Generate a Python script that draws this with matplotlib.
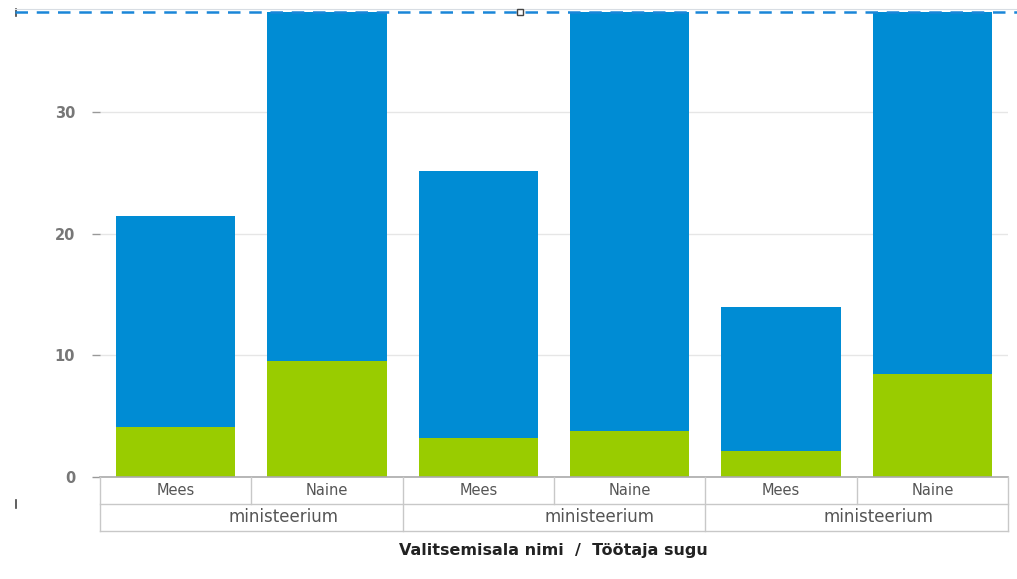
import numpy as np
import matplotlib
matplotlib.use('Agg')
import matplotlib.pyplot as plt
from matplotlib.lines import Line2D

# data (bars 2, 4 and 6 run past the top of the view)
genders = ['Mees', 'Naine', 'Mees', 'Naine', 'Mees', 'Naine']
ministries = ['ministeerium', 'ministeerium', 'ministeerium']
green_values = [4.1, 9.5, 3.2, 3.8, 2.1, 8.5]
blue_values = [17.35, 33.0, 21.9, 36.0, 11.9, 34.0]
y_ticks = [0, 10, 20, 30]
x_title = 'Valitsemisala nimi  /  Töötaja sugu'

blue = '#008cd4'
green = '#99cc00'
grid_col = '#e6e6e6'
line_col = '#c8c8c8'
text_col = '#555555'

W, H = 1017, 579
fig = plt.figure(figsize=(W / 100, H / 100), dpi=100)
fig.patch.set_facecolor('white')

ax_l, ax_r, ax_b, ax_t = 100, 1008, 477, 12
ax = fig.add_axes([ax_l / W, 1 - ax_b / H, (ax_r - ax_l) / W, (ax_b - ax_t) / H])
x = np.arange(len(genders))
ax.bar(x, green_values, width=0.79, color=green, edgecolor='none', zorder=2)
ax.bar(x, blue_values, width=0.79, bottom=green_values, color=blue, edgecolor='none', zorder=2)
ax.set_xlim(-0.5, len(genders) - 0.5)
ax.set_ylim(0, 38.2)
ax.set_yticks(y_ticks)
ax.set_yticklabels([str(t) for t in y_ticks], fontsize=10.5, fontweight='bold', color='#777777')
ax.tick_params(axis='y', length=6, width=1, color='#999999', pad=12)
ax.tick_params(axis='x', bottom=False, labelbottom=False)
ax.yaxis.grid(True, color=grid_col, linewidth=1, zorder=0)
for s in ax.spines.values():
    s.set_visible(False)

# two-row category table under the plot
tb = ax_b + 54
tax = fig.add_axes([ax_l / W, 1 - tb / H, (ax_r - ax_l) / W, 54 / H])
tax.set_xlim(-0.5, len(genders) - 0.5)
tax.set_ylim(0, 2)
tax.axis('off')
lw = 1.0
tax.plot([-0.5, 5.5], [2, 2], color='#aaaaaa', lw=1.2, clip_on=False)
tax.plot([-0.5, 5.5], [1, 1], color=line_col, lw=lw, clip_on=False)
tax.plot([-0.5, 5.5], [0, 0], color=line_col, lw=lw, clip_on=False)
for i in range(len(genders) + 1):
    xv = i - 0.5
    y0 = 0 if i % 2 == 0 else 1
    tax.plot([xv, xv], [y0, 2], color=line_col, lw=lw, clip_on=False)
for i, g in enumerate(genders):
    tax.text(i, 1.5, g, ha='center', va='center', fontsize=10.5, color=text_col)
name_shift = [-0.65, -0.56, -0.72]
for j, m in enumerate(ministries):
    tax.text(2 * j + 0.5 + name_shift[j] + 0.5, 0.5, m, ha='left', va='center',
             fontsize=12, color=text_col)

fig.text(553 / W, 1 - 550 / H, x_title, ha='center', va='center',
         fontsize=11.5, fontweight='bold', color='#222222')

# dashed selection line along the top
fig.add_artist(Line2D([15 / W, 1], [1 - 12 / H, 1 - 12 / H], color='#1a86d8',
                      lw=1.8, ls=(0, (5, 3.5)), zorder=5))
fig.add_artist(Line2D([15 / W, 1], [1 - 9 / H, 1 - 9 / H], color='#d8dde3', lw=0.8, zorder=4))
fig.add_artist(Line2D([520 / W], [1 - 12 / H], marker='s', ms=5, mfc='white',
                      mec='#444444', mew=1, zorder=6))
fig.add_artist(Line2D([16 / W, 16 / W], [1 - 9 / H, 1 - 16 / H], color='#444444', lw=1.2))
fig.add_artist(Line2D([16 / W, 16 / W], [1 - 500 / H, 1 - 508 / H], color='#444444', lw=1.2))

fig.savefig('out.png', dpi=100)
